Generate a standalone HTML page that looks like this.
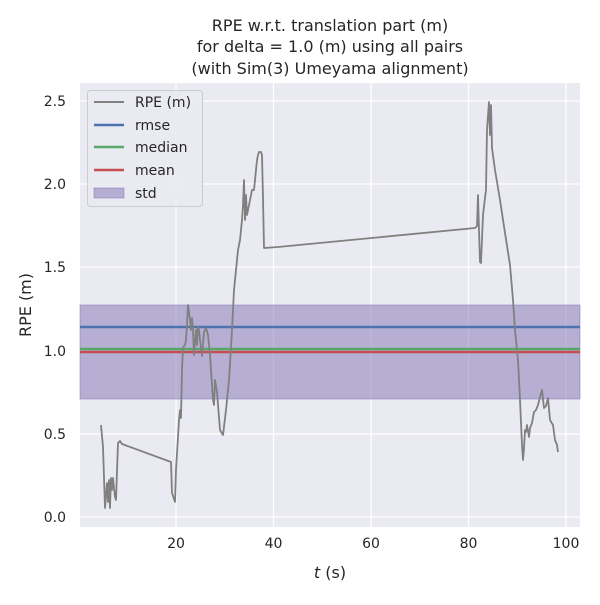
<!DOCTYPE html>
<html><head><style>body{margin:0;background:#fff}</style></head><body>
<svg width="600" height="600" xmlns="http://www.w3.org/2000/svg" font-family="'DejaVu Sans','Liberation Sans',sans-serif">
<rect width="600" height="600" fill="#fff"/>
<rect x="80" y="83" width="500" height="444" fill="#eaeaf2"/>
<g stroke="#fff" stroke-width="1.3">
<line x1="176" y1="83" x2="176" y2="527"/><line x1="273.5" y1="83" x2="273.5" y2="527"/><line x1="371" y1="83" x2="371" y2="527"/><line x1="468.5" y1="83" x2="468.5" y2="527"/><line x1="566" y1="83" x2="566" y2="527"/>
<line x1="80" y1="517" x2="580" y2="517"/><line x1="80" y1="434" x2="580" y2="434"/><line x1="80" y1="351" x2="580" y2="351"/><line x1="80" y1="267" x2="580" y2="267"/><line x1="80" y1="184" x2="580" y2="184"/><line x1="80" y1="101" x2="580" y2="101"/>
</g>
<rect x="80" y="305" width="500" height="94" fill="#8172b3" fill-opacity="0.5" stroke="#8172b3" stroke-opacity="0.5"/>
<line x1="80" y1="327" x2="580" y2="327" stroke="#4c72b0" stroke-width="2.5"/>
<line x1="80" y1="349" x2="580" y2="349" stroke="#55a868" stroke-width="2.5"/>
<line x1="80" y1="352" x2="580" y2="352" stroke="#c44e52" stroke-width="2.5"/>
<polyline fill="none" stroke="#808080" stroke-width="1.8" stroke-linejoin="round" points="101,425 103,447 105,508 107,483 108,502 109,480 110,508 111,478 112,490 113,478 115,497 116,500 118,443 120,441 122,444 171,462 172,493 175,502 176,470 179,420 180,410 181,418 182,370 183,348 184,346 185,345 186,340 187,325 188,305 189,312 190,320 191,330 192,318 193,330 194,355 196,330 197,345 198,327 199,330 200,340 202,356 204,332 206,328 208,335 210,355 213,400 214,405 215,380 217,392 220,430 223,435 226,410 229,380 232,330 234,290 236,270 238,250 240,240 242,220 243,205 244,180 245,220 246,195 247,215 248,210 250,200 252,190 254,190 255,180 257,160 258,155 259,152 261,152 262,155 263,198 264,248 278,247 475,228 477,226 478,195 479,230 480,262 481,263 483,215 485,198 486,190 487,130 489,102 490,135 491,105 492,148 495,170 500,200 505,233 510,265 513,300 515,330 518,360 520,400 522,445 523,460 524,448 525,430 526,432 527,425 529,437 530,428 532,423 534,412 536,410 538,405 540,397 542,390 544,408 546,406 548,398 550,420 553,425 555,440 557,445 558,452"/>
<g font-size="14" fill="#262626">
<g text-anchor="middle"><text x="176" y="548">20</text><text x="273.5" y="548">40</text><text x="371" y="548">60</text><text x="468.5" y="548">80</text><text x="566" y="548">100</text></g>
<g text-anchor="end"><text x="66" y="522">0.0</text><text x="66" y="439">0.5</text><text x="66" y="356">1.0</text><text x="66" y="272">1.5</text><text x="66" y="189">2.0</text><text x="66" y="106">2.5</text></g>
<text x="330" y="578" text-anchor="middle" font-size="16"><tspan font-style="italic">t</tspan> (s)</text>
<text transform="translate(31,305) rotate(-90)" text-anchor="middle" font-size="16">RPE (m)</text>
<g text-anchor="middle" font-size="16"><text x="330" y="31">RPE w.r.t. translation part (m)</text><text x="330" y="52">for delta = 1.0 (m) using all pairs</text><text x="330" y="74">(with Sim(3) Umeyama alignment)</text></g>
</g>
<rect x="87.5" y="90.5" width="115" height="116" rx="3" fill="#eaeaf2" fill-opacity="0.8" stroke="#ccc"/>
<line x1="94" y1="102" x2="124" y2="102" stroke="#808080" stroke-width="2"/>
<line x1="94" y1="125" x2="124" y2="125" stroke="#4c72b0" stroke-width="2.5"/>
<line x1="94" y1="147" x2="124" y2="147" stroke="#55a868" stroke-width="2.5"/>
<line x1="94" y1="170" x2="124" y2="170" stroke="#c44e52" stroke-width="2.5"/>
<rect x="94" y="188" width="30" height="10" fill="#8172b3" fill-opacity="0.5" stroke="#8172b3" stroke-opacity="0.5"/>
<g font-size="14" fill="#262626"><text x="135" y="107">RPE (m)</text><text x="135" y="130">rmse</text><text x="135" y="152">median</text><text x="135" y="175">mean</text><text x="135" y="198">std</text></g>
</svg>
</body></html>
